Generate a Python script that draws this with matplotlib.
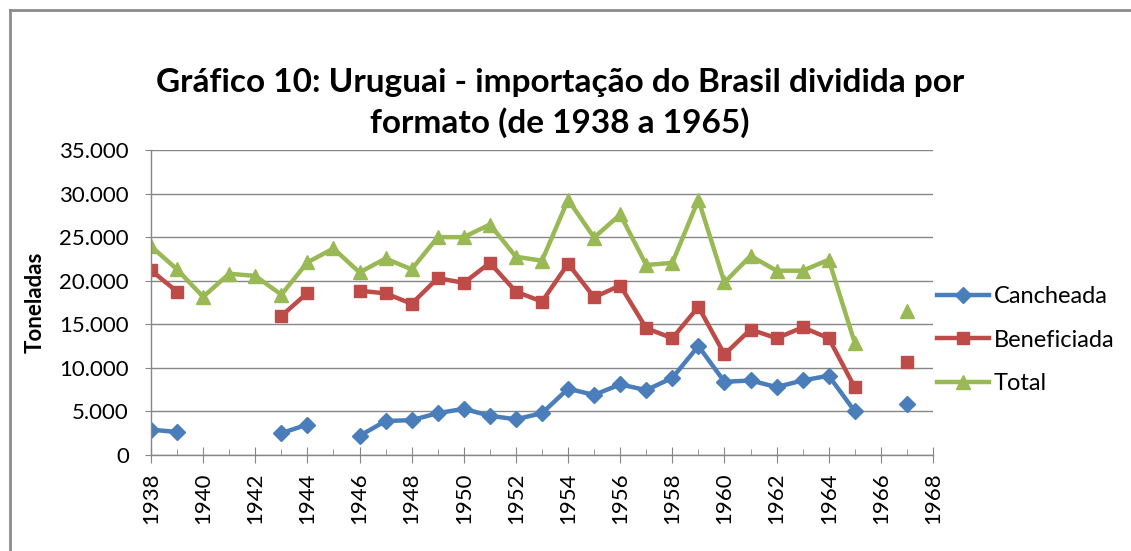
#!/usr/bin/env python3
"""Uruguai: importação do Brasil dividida por formato, 1938-1967."""
import matplotlib

matplotlib.use("Agg")
import matplotlib.pyplot as plt
import numpy as np
from matplotlib.lines import Line2D
from matplotlib.ticker import FuncFormatter, MultipleLocator

nan = np.nan

years = list(range(1938, 1968))

cancheada = [2900, 2650, nan, nan, nan, 2500, 3500, nan, 2200, 3900,
             4000, 4800, 5300, 4500, 4100, 4800, 7600, 6900, 8100, 7450,
             8850, 12500, 8400, 8550, 7800, 8550, 9100, 5000, nan, 5900]

beneficiada = [21200, 18750, nan, nan, nan, 15950, 18600, nan, 18850, 18550,
               17350, 20300, 19750, 22050, 18750, 17600, 21950, 18100, 19450, 14550,
               13400, 17000, 11550, 14400, 13400, 14650, 13400, 7750, nan, 10700]

total = [23950, 21300, 18150, 20800, 20550, 18400, 22100, 23700, 20950, 22550,
         21300, 25000, 25000, 26450, 22750, 22300, 29300, 24950, 27600, 21800,
         22050, 29300, 19800, 22850, 21150, 21150, 22400, 12850, nan, 16500]

series_names = ["Cancheada", "Beneficiada", "Total"]

FONT = ["Lato", "DejaVu Sans"]
GRID = "#868686"

plt.rcParams["font.family"] = FONT

fig = plt.figure(figsize=(11.31, 5.51), dpi=100)
ax = fig.add_axes([151 / 1131, 1 - 455 / 551, 782 / 1131, 305 / 551])

ax.plot(years, cancheada, color="#4A7EBB", lw=3.2, marker="D", ms=8,
        label=series_names[0])
ax.plot(years, beneficiada, color="#BE4B48", lw=3.2, marker="s", ms=8,
        label=series_names[1])
ax.plot(years, total, color="#98B954", lw=3.2, marker="^", ms=10,
        label=series_names[2])

ax.set_xlim(1938, 1968)
ax.set_ylim(0, 35000)
ax.xaxis.set_major_locator(MultipleLocator(2))
ax.xaxis.set_minor_locator(MultipleLocator(1))
ax.yaxis.set_major_locator(MultipleLocator(5000))
ax.yaxis.set_major_formatter(
    FuncFormatter(lambda v, _: f"{int(v):,}".replace(",", ".")))

ax.grid(axis="y", color=GRID, lw=1)
ax.set_axisbelow(True)
for side in ("top", "right"):
    ax.spines[side].set_visible(False)
for side in ("left", "bottom"):
    ax.spines[side].set_color(GRID)
    ax.spines[side].set_linewidth(1)

ax.tick_params(axis="x", which="major", direction="inout", length=11,
               color=GRID, labelsize=16, rotation=90, pad=7)
ax.tick_params(axis="x", which="minor", direction="in", length=4.5,
               color=GRID)
ax.tick_params(axis="y", direction="out", length=4, color=GRID,
               labelsize=16, pad=12)

ax.set_ylabel("Toneladas", fontsize=16, fontweight="bold", labelpad=10)

fig.text(0.495, 1 - 103 / 551,
         "Gráfico 10: Uruguai - importação do Brasil dividida por\n"
         "formato (de 1938 a 1965)",
         ha="center", va="center", fontsize=24, fontweight="bold",
         linespacing=1.4)

ax.legend(loc="center left", bbox_to_anchor=(1.005, 0.377), frameon=False,
          fontsize=17, handlelength=2.2, handletextpad=0.2,
          labelspacing=0.95, borderaxespad=0, borderpad=0)

# chart-area frame (only left and top edges fall inside the image)
fig.add_artist(Line2D([10 / 1131, 10 / 1131], [0, 1 - 10 / 551],
                      transform=fig.transFigure, color="#8c8c8c", lw=2))
fig.add_artist(Line2D([10 / 1131, 1], [1 - 10 / 551, 1 - 10 / 551],
                      transform=fig.transFigure, color="#8c8c8c", lw=2))

fig.savefig("out.png", dpi=100)
